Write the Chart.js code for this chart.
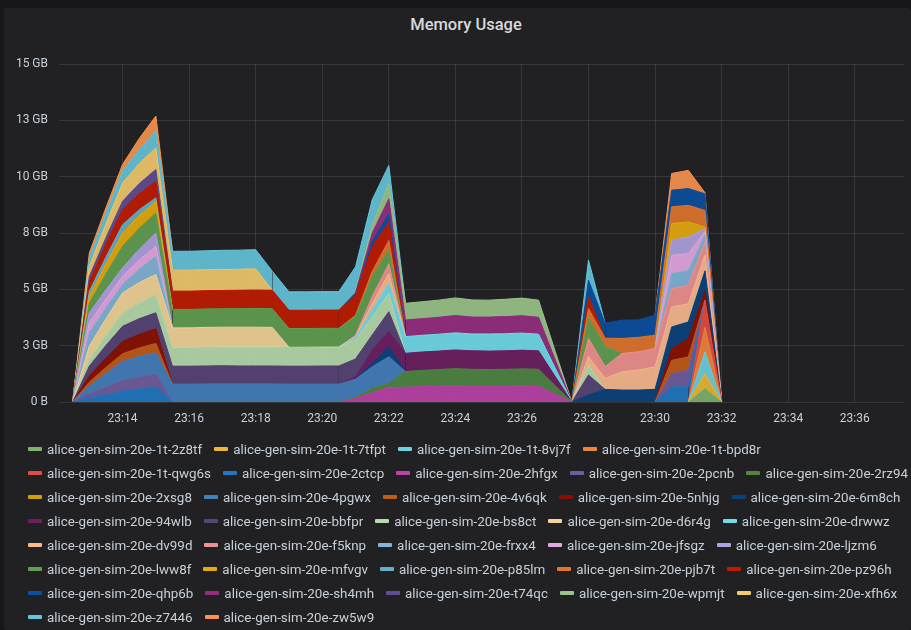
<!DOCTYPE html>
<html>
<head>
<meta charset="utf-8">
<script src="https://cdn.jsdelivr.net/npm/chart.js@4/dist/chart.umd.min.js"></script>
<style>
  html, body { margin:0; padding:0; background:#161719; }
  body { width:911px; height:630px; position:relative; overflow:hidden; font-family: Roboto, "Noto Sans", sans-serif; }
  #panel { position:absolute; left:4px; top:8px; right:0; bottom:0; background:#212124; border-radius:3px; }
  #title { position:absolute; left:366px; width:200px; top:15px; height:20px; line-height:20px; text-align:center; color:#d8d9da; font-size:16.5px; font-weight:500; font-family: Roboto, sans-serif; }
  #wrap { position:absolute; left:0; top:0; width:911px; height:440px; }
  #legend { position:absolute; left:28px; top:438px; width:883px; color:#c7d0d9; font-size:13.4px; font-family: Roboto, sans-serif; }
  .row { height:24px; line-height:24px; white-space:nowrap; }
  .item { display:inline-block; margin-right:12px; }
  .mk { display:inline-block; width:14px; height:4px; border-radius:1px; vertical-align:middle; margin-right:5px; position:relative; top:-1px; }
</style>
</head>
<body>
<div id="panel"></div>
<div id="title">Memory Usage</div>
<div id="wrap"><canvas id="c" width="911" height="440"></canvas></div>
<div id="legend"></div>
<script>
// ---- time axis (30 s samples) ----
const times = ['23:12:00','23:12:30','23:13:00','23:13:30','23:14:00','23:14:30','23:15:00','23:15:30','23:16:00','23:16:30',
               '23:17:00','23:17:30','23:18:00','23:18:30','23:19:00','23:19:30','23:20:00','23:20:30','23:21:00','23:21:30',
               '23:22:00','23:22:30','23:23:00','23:23:30','23:24:00','23:24:30','23:25:00','23:25:30','23:26:00','23:26:30',
               '23:27:00','23:27:30','23:28:00','23:28:30','23:29:00','23:29:30','23:30:00','23:30:30','23:31:00','23:31:30',
               '23:32:00'];
const xTickLabels = ['23:14','23:16','23:18','23:20','23:22','23:24','23:26','23:28','23:30','23:32','23:34','23:36'];
const yTickValues = [0, 2.5, 5, 7.5, 10, 12.5, 15];
const yTickLabels = ['0 B','3 GB','5 GB','8 GB','10 GB','13 GB','15 GB'];

// ---- series names (GB values) ----
const seriesNames = ['alice-gen-sim-20e-1t-2z8tf','alice-gen-sim-20e-1t-7tfpt','alice-gen-sim-20e-1t-8vj7f','alice-gen-sim-20e-1t-bpd8r',
  'alice-gen-sim-20e-1t-qwg6s','alice-gen-sim-20e-2ctcp','alice-gen-sim-20e-2hfgx','alice-gen-sim-20e-2pcnb','alice-gen-sim-20e-2rz94',
  'alice-gen-sim-20e-2xsg8','alice-gen-sim-20e-4pgwx','alice-gen-sim-20e-4v6qk','alice-gen-sim-20e-5nhjg','alice-gen-sim-20e-6m8ch',
  'alice-gen-sim-20e-94wlb','alice-gen-sim-20e-bbfpr','alice-gen-sim-20e-bs8ct','alice-gen-sim-20e-d6r4g','alice-gen-sim-20e-drwwz',
  'alice-gen-sim-20e-dv99d','alice-gen-sim-20e-f5knp','alice-gen-sim-20e-frxx4','alice-gen-sim-20e-jfsgz','alice-gen-sim-20e-ljzm6',
  'alice-gen-sim-20e-lww8f','alice-gen-sim-20e-mfvgv','alice-gen-sim-20e-p85lm','alice-gen-sim-20e-pjb7t','alice-gen-sim-20e-pz96h',
  'alice-gen-sim-20e-qhp6b','alice-gen-sim-20e-sh4mh','alice-gen-sim-20e-t74qc','alice-gen-sim-20e-wpmjt','alice-gen-sim-20e-xfh6x',
  'alice-gen-sim-20e-z7446','alice-gen-sim-20e-zw5w9'];

const v_1t_2z8tf = [0,0,0,0,0,0,0,0,0,0, 0,0,0,0,0,0,0,0,0,0, 0,0,0,0,0,0,0,0,0,0, 0,0,0,0,0,0,0,0,0,0.59, 0];
const v_1t_7tfpt = [0,0,0,0,0,0,0,0,0,0, 0,0,0,0,0,0,0,0,0,0, 0,0,0,0,0,0,0,0,0,0, 0,0,0,0,0,0,0,0,0,0.67, 0];
const v_1t_8vj7f = [0,0,0,0,0,0,0,0,0,0, 0,0,0,0,0,0,0,0,0,0, 0,0,0,0,0,0,0,0,0,0, 0,0,0,0,0,0,0,0,0,0.96, 0];
const v_1t_bpd8r = [0,0,0,0,0,0,0,0,0,0, 0,0,0,0,0,0,0,0,0,0, 0,0,0,0,0,0,0,0,0,0, 0,0,0,0,0,0,0,0,0,1.10, 0];
const v_1t_qwg6s = [0,0,0,0,0,0,0,0,0,0, 0,0,0,0,0,0,0,0,0,0, 0,0,0,0,0,0,0,0,0,0, 0,0,0,0,0,0,0,0,0,1.20, 0];
const v_2ctcp = [0,0,0.18,0.32,0.47,0.58,0.68,0,0,0, 0,0,0,0,0,0,0,0,0,0, 0,0,0,0,0,0,0,0,0,0, 0,0,0,0,0,0,0,0.67,0.67,0, 0];
const v_2hfgx = [0,0,0,0,0,0,0,0,0,0, 0,0,0,0,0,0,0,0,0.16,0.41, 0.65,0.65,0.68,0.70,0.72,0.70,0.70,0.70,0.71,0.70, 0.35,0,0,0,0,0,0,0,0,0, 0];
const v_2pcnb = [0,0,0.18,0.33,0.47,0.52,0.55,0,0,0, 0,0,0,0,0,0,0,0,0,0, 0,0,0,0,0,0,0,0,0,0, 0,0,0,0,0,0,0,0.59,0.74,0, 0];
const v_2rz94 = [0,0,0,0,0,0,0,0,0,0, 0,0,0,0,0,0,0,0,0.05,0.19, 0.18,0.70,0.72,0.74,0.76,0.75,0.74,0.75,0.76,0.75, 0.37,0,0,0,0,0,0,0,0,0, 0];
const v_2xsg8 = [0,0,0,0,0,0,0,0,0,0, 0,0,0,0,0,0,0,0,0,0, 0,0,0,0,0,0,0,0,0,0, 0,0,0,0,0,0,0,0,0,0, 0];
const v_4pgwx = [0,0,0.34,0.62,0.86,0.92,0.96,0.79,0.79,0.80, 0.80,0.80,0.80,0.80,0.79,0.79,0.79,0.79,0.80,0.96, 1.18,0,0,0,0,0,0,0,0,0, 0,0,0,0,0,0,0,0,0,0, 0];
const v_4v6qk = [0,0,0.18,0.26,0.34,0.38,0.41,0,0,0, 0,0,0,0,0,0,0,0,0,0, 0,0,0,0,0,0,0,0,0,0, 0,0,0,0,0,0,0,0.59,0.59,0, 0];
const v_5nhjg = [0,0,0.27,0.42,0.55,0.60,0.65,0,0,0, 0,0,0,0,0,0,0,0,0,0, 0,0,0,0,0,0,0,0,0,0, 0,0,0,0,0,0,0,0.52,0.81,0.40, 0];
const v_6m8ch = [0,0,0,0,0,0,0,0,0,0, 0,0,0,0,0,0,0,0,0,0.15, 0.44,0,0,0,0,0,0,0,0,0, 0,0,0.31,0.56,0.53,0.53,0.56,0.96,0.74,0.90, 0];
const v_94wlb = [0,0,0,0,0,0,0,0,0,0, 0,0,0,0,0,0,0,0,0.10,0.59, 0.67,0.81,0.82,0.82,0.83,0.82,0.82,0.82,0.83,0.82, 0.41,0,0,0,0,0,0,0,0,0, 0];
const v_bbfpr = [0,0,0.44,0.56,0.67,0.70,0.71,0.80,0.80,0.80, 0.81,0.80,0.80,0.80,0.80,0.80,0.81,0.81,0.80,0.67, 0.89,0,0,0,0,0,0,0,0,0, 0,0,0.89,0,0,0,0,0,0,0, 0];
const v_bs8ct = [0,0,0.30,0.45,0.59,0.70,0.81,0.83,0.83,0.83, 0.83,0.84,0.84,0.84,0.84,0.84,0.84,0.84,0.85,0.81, 0.81,0,0,0,0,0,0,0,0,0, 0,0,0.44,0,0,0,0,0,0,0, 0];
const v_d6r4g = [0,0,0.59,0.74,0.89,0.90,0.89,0.87,0.87,0.88, 0.88,0.88,0.88,0.87,0,0,0,0,0,0, 0,0,0,0,0,0,0,0,0,0, 0,0,0,0,0,0,0,0,0,0, 0];
const v_drwwz = [0,0,0,0,0,0,0,0,0,0, 0,0,0,0,0,0,0,0,0.10,0.30, 0.44,0.74,0.74,0.75,0.76,0.75,0.76,0.76,0.76,0.74, 0.37,0,0,0,0,0,0,0,0,0, 0];
const v_dv99d = [0,0,0,0,0,0,0,0,0,0, 0,0,0,0,0,0,0,0,0.05,0.30, 0.44,0,0,0,0,0,0,0,0,0, 0,0,0.37,0.49,0.81,0.89,1.00,0.89,0.81,0.70, 0];
const v_f5knp = [0,0,0,0,0,0,0,0,0,0, 0,0,0,0,0,0,0,0,0.05,0.30, 0.44,0,0,0,0,0,0,0,0,0, 0,0,0.81,0.52,0.81,0.81,0.81,0.81,0.81,0.60, 0];
const v_frxx4 = [0,0,0.59,0.48,0.37,0.60,0.81,0,0,0, 0,0,0,0,0,0,0,0,0,0, 0,0,0,0,0,0,0,0,0,0, 0,0,0,0,0,0,0,0.67,0.67,0.30, 0];
const v_jfsgz = [0,0,0.44,0.40,0.37,0.40,0.44,0,0,0, 0,0,0,0,0,0,0,0,0,0, 0,0,0,0,0,0,0,0,0,0, 0,0,0,0,0,0,0,0.81,0.74,0.15, 0];
const v_ljzm6 = [0,0,0.44,0.40,0.37,0.48,0.59,0,0,0, 0,0,0,0,0,0,0,0,0,0, 0,0,0,0,0,0,0,0,0,0, 0,0,0,0,0,0,0,0.67,0.74,0.12, 0];
const v_lww8f = [0,0,0.44,0.70,0.96,0.93,0.89,0.82,0.82,0.82, 0.82,0.82,0.83,0.83,0.83,0.83,0.83,0.83,0.84,0.89, 0.59,0,0,0,0,0,0,0,0,0, 0,0,0.89,0.89,0,0,0,0,0,0, 0];
const v_mfvgv = [0,0,0.30,0.45,0.59,0.56,0.52,0,0,0, 0,0,0,0,0,0,0,0,0,0, 0,0,0,0,0,0,0,0,0,0, 0,0,0,0,0,0,0,0.74,0.67,0.07, 0];
const v_p85lm = [0,0,0.22,0.30,0.37,0.26,0.15,0,0,0, 0,0,0,0,0,0,0,0,0,0, 0,0,0,0,0,0,0,0,0,0, 0,0,0,0,0,0,0,0,0,0, 0];
const v_pjb7t = [0,0,0,0,0,0,0,0,0,0, 0,0,0,0,0,0,0,0,0.05,0.22, 0.44,0,0,0,0,0,0,0,0,0, 0,0,0.44,0.37,0.67,0.64,0.59,0.74,0.74,0.74, 0];
const v_pz96h = [0,0,0.44,0.56,0.67,0.71,0.74,0.81,0.81,0.81, 0.81,0.82,0.82,0.82,0.81,0.81,0.81,0.81,0.90,1.11, 0.81,0,0,0,0,0,0,0,0,0, 0,0,0.52,0,0,0,0,0,0,0, 0];
const v_qhp6b = [0,0,0,0,0,0,0,0,0,0, 0,0,0,0,0,0,0,0,0.05,0.22, 0.37,0,0,0,0,0,0,0,0,0, 0,0,0.74,0.66,0.81,0.77,0.89,0.74,0.74,0.74, 0];
const v_sh4mh = [0,0,0,0,0,0,0,0,0,0, 0,0,0,0,0,0,0,0,0.05,0.37, 0.67,0.74,0.74,0.75,0.77,0.75,0.75,0.76,0.77,0.75, 0.37,0,0,0,0,0,0,0,0,0, 0];
const v_t74qc = [0,0,0.22,0.30,0.37,0.45,0.52,0,0,0, 0,0,0,0,0,0,0,0,0,0, 0,0,0,0,0,0,0,0,0,0, 0,0,0,0,0,0,0,0,0,0, 0];
const v_wpmjt = [0,0,0,0,0,0,0,0,0,0, 0,0,0,0,0,0,0,0,0.05,0.37, 0.67,0.74,0.75,0.76,0.78,0.76,0.75,0.77,0.78,0.76, 0.38,0,0,0,0,0,0,0,0,0, 0];
const v_xfh6x = [0,0,0.44,0.62,0.81,0.89,0.96,0.93,0.93,0.93, 0.93,0.93,0.94,0,0,0,0,0,0,0, 0,0,0,0,0,0,0,0,0,0, 0,0,0,0,0,0,0,0,0,0, 0];
const v_z7446 = [0,0,0.37,0.45,0.52,0.63,0.74,0.84,0.84,0.84, 0.85,0.85,0.85,0.84,0.82,0.82,0.82,0.82,1.10,1.11, 0.81,0,0,0,0,0,0,0,0,0, 0,0,0.89,0,0,0,0,0,0,0, 0];
const v_zw5w9 = [0,0,0.22,0.26,0.30,0.48,0.67,0,0,0, 0,0,0,0,0,0,0,0,0,0, 0,0,0,0,0,0,0,0,0,0, 0,0,0,0,0,0,0,0.74,0.81,0.05, 0];

const seriesValues = [v_1t_2z8tf, v_1t_7tfpt, v_1t_8vj7f, v_1t_bpd8r, v_1t_qwg6s, v_2ctcp, v_2hfgx, v_2pcnb, v_2rz94, v_2xsg8,
  v_4pgwx, v_4v6qk, v_5nhjg, v_6m8ch, v_94wlb, v_bbfpr, v_bs8ct, v_d6r4g, v_drwwz, v_dv99d, v_f5knp, v_frxx4, v_jfsgz, v_ljzm6,
  v_lww8f, v_mfvgv, v_p85lm, v_pjb7t, v_pz96h, v_qhp6b, v_sh4mh, v_t74qc, v_wpmjt, v_xfh6x, v_z7446, v_zw5w9];

// ---- palette (Grafana classic) ----
const palette = ['#7EB26D','#EAB839','#6ED0E0','#EF843C','#E24D42','#1F78C1','#BA43A9','#705DA0','#508642','#CCA300',
  '#447EBC','#C15C17','#890F02','#0A437C','#6D1F62','#584477','#B7DBAB','#F4D598','#70DBED','#F9BA8F',
  '#F29191','#82B5D8','#E5A8E2','#AEA2E0','#629E51','#E5AC0E','#64B0C8','#E0752D','#BF1B00','#0A50A1',
  '#962D82','#614D93','#9AC48A','#F2C96D','#65C5DB','#F9934E'];

function toMin(s) { const p = s.split(':').map(Number); return (p[0]-23)*60 + p[1] + (p[2]||0)/60; }
function rgba(hex, a) { const n = parseInt(hex.slice(1),16); return `rgba(${n>>16&255},${n>>8&255},${n&255},${a})`; }

const datasets = seriesNames.map((name, i) => ({
  label: name,
  data: seriesValues[i].map((v, j) => ({ x: toMin(times[j]), y: v })),
  borderColor: palette[i],
  backgroundColor: rgba(palette[i], 0.9),
  borderWidth: 1,
  pointRadius: 0,
  tension: 0,
  fill: i === 0 ? 'origin' : '-1',
  segment: {
    borderColor: ctx => {
      const d = seriesValues[ctx.datasetIndex];
      return (d[ctx.p0DataIndex] === 0 && d[ctx.p1DataIndex] === 0) ? 'rgba(0,0,0,0)' : undefined;
    }
  }
}));

const tickColor = '#c7d0d9';
const gridColor = 'rgba(255,255,255,0.1)';

new Chart(document.getElementById('c'), {
  type: 'line',
  data: { datasets },
  options: {
    responsive: false,
    animation: false,
    layout: { padding: { top: 64, right: 7, bottom: 0, left: 0 } },
    plugins: {
      legend: { display: false },
      tooltip: { enabled: false },
      title: { display: false }
    },
    scales: {
      x: {
        type: 'linear',
        min: 12.09, max: 37.48,
        grid: { color: gridColor, drawTicks: false },
        border: { display: false },
        afterFit: s => { s.height = 38; },
        afterBuildTicks: s => { s.ticks = xTickLabels.map(l => ({ value: toMin(l) })); },
        ticks: {
          color: tickColor, padding: 10, maxRotation: 0, autoSkip: false,
          font: { family: 'Roboto', size: 12 },
          callback: v => { const m = Math.round(v); return '23:' + String(m).padStart(2,'0'); }
        }
      },
      y: {
        type: 'linear',
        stacked: true,
        min: 0, max: 15,
        grid: { color: gridColor, drawTicks: false },
        border: { display: false },
        afterFit: s => { s.width = 59; },
        afterBuildTicks: s => { s.ticks = yTickValues.map(v => ({ value: v })); },
        ticks: {
          color: tickColor, padding: 11, autoSkip: false,
          font: { family: 'Roboto', size: 12 },
          callback: v => yTickLabels[yTickValues.indexOf(v)]
        }
      }
    }
  }
});

// ---- legend (rows as in the panel) ----
const rowBreaks = [4, 9, 14, 19, 24, 29, 34];
const leg = document.getElementById('legend');
let row = null;
seriesNames.forEach((name, i) => {
  if (i === 0 || rowBreaks.includes(i)) { row = document.createElement('div'); row.className = 'row'; leg.appendChild(row); }
  const it = document.createElement('span'); it.className = 'item';
  const mk = document.createElement('span'); mk.className = 'mk'; mk.style.background = palette[i];
  it.appendChild(mk); it.appendChild(document.createTextNode(name));
  row.appendChild(it);
});
</script>
</body>
</html>
